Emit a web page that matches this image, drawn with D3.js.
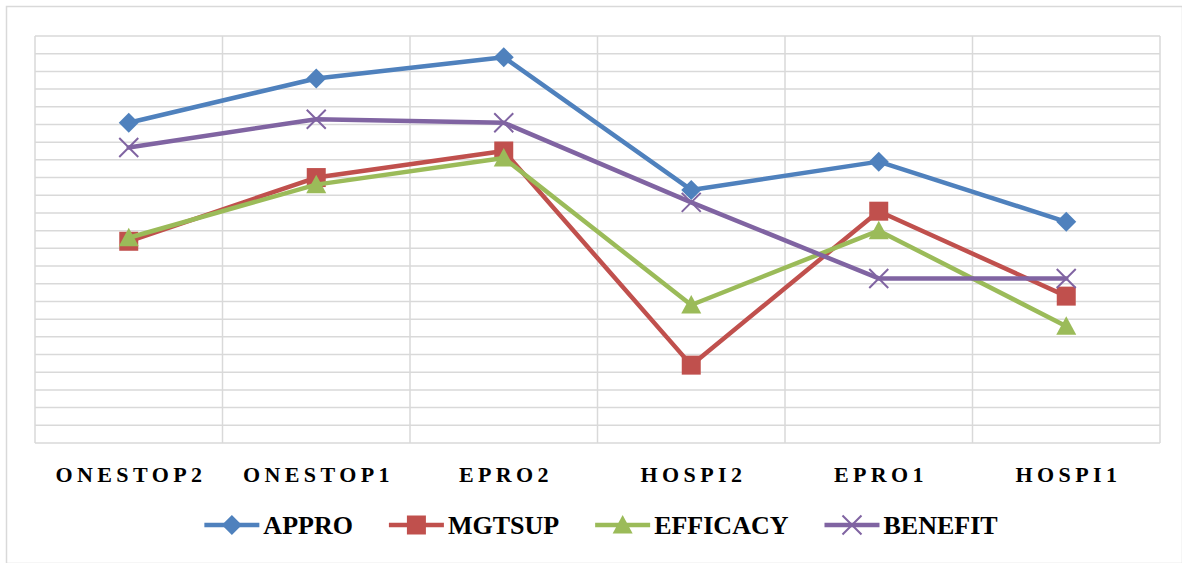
<!DOCTYPE html>
<html>
<head>
<meta charset="utf-8">
<script src="https://cdn.jsdelivr.net/npm/d3@7"></script>
<style>
  html, body { margin: 0; padding: 0; background: #ffffff; }
  svg { display: block; }
</style>
</head>
<body>
<svg id="chart" width="1182" height="563"></svg>
<script>
// ---- data ----
const categories = ["ONESTOP2", "ONESTOP1", "EPRO2", "HOSPI2", "EPRO1", "HOSPI1"];
const seriesNames = ["APPRO", "MGTSUP", "EFFICACY", "BENEFIT"];
const appro    = [4.51, 4.76, 4.88, 4.13, 4.29, 3.95];
const mgtsup   = [3.84, 4.20, 4.35, 3.14, 4.01, 3.53];
const efficacy = [3.86, 4.16, 4.31, 3.48, 3.90, 3.36];
const benefit  = [4.37, 4.53, 4.51, 4.06, 3.63, 3.63];
const yMin = 2.7, yMax = 5.0, yStep = 0.1;

const seriesValues = [appro, mgtsup, efficacy, benefit];
const colors = ["#4F81BD", "#C0504D", "#9BBB59", "#8064A2"];
const markers = ["diamond", "square", "triangle", "x"];

const svg = d3.select("#chart");
const W = 1182, H = 563;

// outer border
svg.append("rect").attr("x", 6.5).attr("y", 6.5).attr("width", W - 6).attr("height", H - 6)
  .attr("fill", "none").attr("stroke", "#d9d9d9").attr("stroke-width", 1.5);

const plot = { left: 35, right: 1160, top: 36, bottom: 443 };

const x = d3.scaleBand().domain(categories).range([plot.left, plot.right]).padding(0);
const y = d3.scaleLinear().domain([yMin, yMax]).range([plot.bottom, plot.top]);

const nSteps = Math.round((yMax - yMin) / yStep);
const yTicks = d3.range(nSteps + 1).map(i => yMin + i * yStep);

const grid = svg.append("g");
grid.selectAll("line.h").data(yTicks).join("line")
  .attr("x1", plot.left).attr("x2", plot.right)
  .attr("y1", d => y(d)).attr("y2", d => y(d))
  .attr("stroke", "#d9d9d9").attr("stroke-width", 1.5);
const vb = categories.map(c => x(c)).concat([plot.right]);
grid.selectAll("line.v").data(vb).join("line")
  .attr("x1", d => d).attr("x2", d => d)
  .attr("y1", plot.top).attr("y2", plot.bottom)
  .attr("stroke", "#d9d9d9").attr("stroke-width", 1.5);

// category axis labels
const ls = 4.4;
const xAxis = d3.axisBottom(x).tickSize(0).tickPadding(0);
const gx = svg.append("g").attr("transform", `translate(0,${plot.bottom})`).call(xAxis);
gx.select(".domain").remove();
gx.selectAll("text")
  .attr("y", 39).attr("dy", null).attr("dx", ls / 2)
  .attr("font-family", "'Liberation Serif', 'Times New Roman', serif")
  .attr("font-weight", "bold").attr("font-size", 22)
  .attr("letter-spacing", ls)
  .attr("fill", "#000");

function markerPath(type, cx, cy) {
  if (type === "diamond") {
    const r = 10;
    return `M${cx},${cy - r}L${cx + r},${cy}L${cx},${cy + r}L${cx - r},${cy}Z`;
  }
  if (type === "square") {
    const r = 9.5;
    return `M${cx - r},${cy - r}H${cx + r}V${cy + r}H${cx - r}Z`;
  }
  if (type === "triangle") {
    const r = 10;
    return `M${cx},${cy - r}L${cx + r},${cy + r * 0.85}L${cx - r},${cy + r * 0.85}Z`;
  }
  const r = 9.5;
  return `M${cx - r},${cy - r}L${cx + r},${cy + r}M${cx - r},${cy + r}L${cx + r},${cy - r}`;
}

const line = d3.line().x((d, i) => x(categories[i]) + x.bandwidth() / 2).y(d => y(d));

seriesValues.forEach((vals, si) => {
  const g = svg.append("g");
  g.append("path").datum(vals).attr("d", line)
    .attr("fill", "none").attr("stroke", colors[si]).attr("stroke-width", 4.5)
    .attr("stroke-linejoin", "round").attr("stroke-linecap", "round");
  g.selectAll("path.m").data(vals).join("path")
    .attr("class", "m")
    .attr("d", (d, i) => markerPath(markers[si], x(categories[i]) + x.bandwidth() / 2, y(d)))
    .attr("fill", markers[si] === "x" ? "none" : colors[si])
    .attr("stroke", colors[si])
    .attr("stroke-width", markers[si] === "x" ? 2 : 0);
});

// legend
const legend = svg.append("g");
const legendY = 525;
const items = [];
let cursor = 0;
seriesNames.forEach((name, si) => {
  const g = legend.append("g");
  g.append("line").attr("x1", 0).attr("x2", 55).attr("y1", 0).attr("y2", 0)
    .attr("stroke", colors[si]).attr("stroke-width", 4.5);
  g.append("path").attr("d", markerPath(markers[si], 27.5, 0))
    .attr("fill", markers[si] === "x" ? "none" : colors[si])
    .attr("stroke", colors[si]).attr("stroke-width", markers[si] === "x" ? 2 : 0);
  const t = g.append("text").attr("x", 59).attr("y", 9)
    .attr("font-family", "'Liberation Serif', 'Times New Roman', serif")
    .attr("font-weight", "bold").attr("font-size", 26).attr("fill", "#000")
    .text(name);
  const w = 59 + t.node().getComputedTextLength();
  items.push({ g, x: cursor });
  cursor += w + 36;
});
const totalW = cursor - 36;
const startX = 601 - totalW / 2;
items.forEach(it => it.g.attr("transform", `translate(${startX + it.x},${legendY})`));
</script>
</body>
</html>
